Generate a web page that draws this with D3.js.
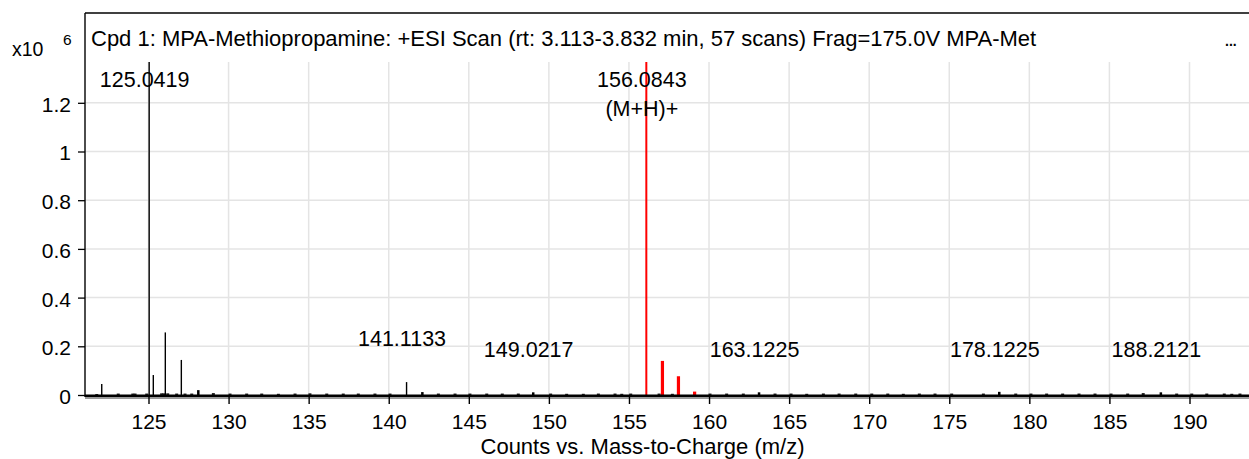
<!DOCTYPE html>
<html>
<head>
<meta charset="utf-8">
<script src="https://cdn.jsdelivr.net/npm/d3@7"></script>
<style>
  html, body { margin: 0; padding: 0; background: #fff; }
  svg { display: block; font-family: "Liberation Sans", Arial, sans-serif; }
</style>
</head>
<body>
<svg id="chart" width="1249" height="459"></svg>
<script>
// ---- spectrum data (intensities in units of 10^6 counts) ----
const titleText = "Cpd 1: MPA-Methiopropamine: +ESI Scan (rt: 3.113-3.832 min, 57 scans) Frag=175.0V MPA-Met";
const xAxisTitle = "Counts vs. Mass-to-Charge (m/z)";
const xTicks = [125, 130, 135, 140, 145, 150, 155, 160, 165, 170, 175, 180, 185, 190];
const yTicks = [0, 0.2, 0.4, 0.6, 0.8, 1, 1.2];

// fragment / background ions (black sticks)
const fragMz  = [122.08, 125.0419, 125.30, 126.05, 127.05, 128.11, 141.1133, 142.10, 149.0217, 163.1225, 178.1225, 188.2121];
const fragInt = [0.045,  1.40,     0.082,  0.257,  0.144,  0.020,  0.053,    0.012,  0.011,    0.011,    0.013,    0.011];

// protonated molecule and its isotopes (red sticks)
const ionMz  = [156.0843, 157.09, 158.09, 159.10];
const ionInt = [1.40,     0.140,  0.077,  0.014];

// low-level sticks along the baseline
const noiseMz  = [121.77, 123.11, 124.02, 124.16, 124.89, 125.82, 125.95, 126.20, 126.76, 127.28, 127.70,
                  129.05, 130.09, 131.13, 132.07, 133.11, 134.15, 135.08, 136.13, 137.16, 138.10, 139.14,
                  140.08, 143.10, 144.14, 145.07, 146.12, 147.09, 148.09, 150.11, 151.11, 152.15, 153.09,
                  154.13, 154.55, 155.11, 156.88, 157.71, 160.06, 161.10, 162.14, 164.12, 165.12, 166.10,
                  167.14, 168.12, 169.16, 170.16, 171.16, 172.13, 173.13, 174.11, 175.15, 177.13, 179.15,
                  180.10, 181.08, 182.08, 183.10, 184.10, 185.10, 186.14, 187.11, 189.20, 190.14, 191.08,
                  192.17, 192.64, 193.15];
const noiseInt = [0.004, 0.006, 0.006, 0.006, 0.006, 0.007, 0.007, 0.007, 0.006, 0.006, 0.006,
                  0.008, 0.006, 0.006, 0.006, 0.005, 0.006, 0.007, 0.006, 0.006, 0.006, 0.006,
                  0.006, 0.006, 0.006, 0.006, 0.006, 0.006, 0.006, 0.006, 0.005, 0.005, 0.006,
                  0.006, 0.005, 0.006, 0.006, 0.005, 0.006, 0.006, 0.006, 0.006, 0.006, 0.005,
                  0.006, 0.006, 0.006, 0.006, 0.006, 0.005, 0.006, 0.006, 0.006, 0.006, 0.006,
                  0.006, 0.006, 0.006, 0.006, 0.006, 0.006, 0.006, 0.008, 0.006, 0.006, 0.006,
                  0.006, 0.005, 0.006];

// annotated peaks
const labelMz   = [125.0419, 156.0843, 141.1133, 149.0217, 163.1225, 178.1225, 188.2121];
const labelText = ["125.0419", "156.0843", "141.1133", "149.0217", "163.1225", "178.1225", "188.2121"];
const labelNote = ["", "(M+H)+", "", "", "", "", ""];

// ---- layout ----
const svg = d3.select("#chart");
const W = 1249;
const frameLeft = 85, frameTop = 13;
const plotTop = 62, plotBottom = 395;
const fontSize = 21;
const titleSize = 22;

const x = d3.scaleLinear().domain([125, 190]).range([148.5, 1189.5]);
const y = d3.scaleLinear().domain([0, 1.2]).range([plotBottom, 102.8]);

svg.append("defs").append("clipPath").attr("id", "plotClip")
  .append("rect").attr("x", frameLeft).attr("y", plotTop)
  .attr("width", W - frameLeft).attr("height", plotBottom - plotTop + 1);

// grid
const grid = svg.append("g");
grid.selectAll("line.v").data(xTicks).join("line")
  .attr("x1", d => x(d)).attr("x2", d => x(d))
  .attr("y1", plotTop).attr("y2", plotBottom)
  .attr("stroke", "#e4e4e4").attr("stroke-width", 1.5);
grid.selectAll("line.h").data(yTicks.filter(d => d > 0)).join("line")
  .attr("x1", frameLeft).attr("x2", W)
  .attr("y1", d => y(d)).attr("y2", d => y(d))
  .attr("stroke", "#e4e4e4").attr("stroke-width", 1.5);

// frame (left and top edges)
svg.append("line").attr("x1", frameLeft).attr("x2", frameLeft)
  .attr("y1", frameTop).attr("y2", plotBottom + 2)
  .attr("stroke", "#000").attr("stroke-width", 1.4);
svg.append("line").attr("x1", frameLeft).attr("x2", W)
  .attr("y1", frameTop).attr("y2", frameTop)
  .attr("stroke", "#000").attr("stroke-width", 1.4);

// title
svg.append("text").attr("x", 91).attr("y", 46)
  .attr("font-size", titleSize).attr("fill", "#000").text(titleText);
svg.append("text").attr("x", 1225).attr("y", 46)
  .attr("font-size", 14).attr("font-weight", "bold").attr("fill", "#000").text("...");

// y scale factor
svg.append("text").attr("x", 12).attr("y", 56)
  .attr("font-size", 19.5).attr("fill", "#000").text("x10");
svg.append("text").attr("x", 63).attr("y", 45)
  .attr("font-size", 15.5).attr("fill", "#000").text("6");

// y axis
const yAxis = d3.axisLeft(y).tickValues(yTicks).tickFormat(d3.format("~g"))
  .tickSize(7).tickPadding(7);
const gy = svg.append("g").attr("transform", `translate(${frameLeft},0)`).call(yAxis);
gy.select(".domain").remove();
gy.selectAll(".tick line").attr("stroke", "#000").attr("stroke-width", 1.3);
gy.selectAll(".tick text").attr("font-size", fontSize).attr("fill", "#000")
  .attr("font-family", "Liberation Sans, Arial, sans-serif").attr("dy", "0.4em");

// spectrum sticks
const sticks = svg.append("g").attr("clip-path", "url(#plotClip)");
const noise = d3.zip(noiseMz, noiseInt);
sticks.selectAll("line.noise").data(noise).join("line")
  .attr("x1", d => x(d[0])).attr("x2", d => x(d[0]))
  .attr("y1", y(0)).attr("y2", d => y(d[1]))
  .attr("stroke", "#222").attr("stroke-width", 3);
const frags = d3.zip(fragMz, fragInt);
sticks.selectAll("line.frag").data(frags).join("line")
  .attr("x1", d => x(d[0])).attr("x2", d => x(d[0]))
  .attr("y1", y(0)).attr("y2", d => y(d[1]))
  .attr("stroke", "#000").attr("stroke-width", d => d[1] > 0.03 ? 1.4 : 2.5);
const ions = d3.zip(ionMz, ionInt);
sticks.selectAll("line.ion").data(ions).join("line")
  .attr("x1", d => x(d[0])).attr("x2", d => x(d[0]))
  .attr("y1", y(0)).attr("y2", d => y(d[1]))
  .attr("stroke", "#ff0000").attr("stroke-width", (d, i) => i === 0 ? 2 : 3.2);

// baseline / x axis line
svg.append("line").attr("x1", frameLeft).attr("x2", W)
  .attr("y1", plotBottom + 0.8).attr("y2", plotBottom + 0.8)
  .attr("stroke", "#000").attr("stroke-width", 2.5);
svg.append("line").attr("x1", frameLeft).attr("x2", W)
  .attr("y1", plotBottom + 3).attr("y2", plotBottom + 3)
  .attr("stroke", "#9a9a9a").attr("stroke-width", 2);

// x axis
const xAxis = d3.axisBottom(x).tickValues(xTicks).tickFormat(d3.format("d"))
  .tickSize(7).tickPadding(10);
const gx = svg.append("g").attr("transform", `translate(0,${plotBottom + 2})`).call(xAxis);
gx.select(".domain").remove();
gx.selectAll(".tick line").attr("stroke", "#000").attr("stroke-width", 1.4);
gx.selectAll(".tick text").attr("font-size", fontSize).attr("fill", "#000")
  .attr("font-family", "Liberation Sans, Arial, sans-serif");

svg.append("text").attr("x", 642.5).attr("y", 453.5)
  .attr("text-anchor", "middle").attr("font-size", titleSize).attr("fill", "#000")
  .text(xAxisTitle);

// peak annotations: off-scale peaks are labelled at the top of the plot,
// small peaks on a common row above the baseline (one lifted to avoid crowding)
const liftedLabels = new Set(["141.1133"]);
const allPeaks = new Map(frags.concat(ions).map(d => [d[0], d[1]]));
const yMax = y.invert(plotTop);
const labels = svg.append("g").attr("font-size", fontSize + 0.5).attr("fill", "#000")
  .attr("text-anchor", "middle");
labelMz.forEach((mz, i) => {
  const h = allPeaks.get(mz);
  const base = h >= yMax ? plotTop + 25 : (liftedLabels.has(labelText[i]) ? y(0.2) : y(0.155));
  labels.append("text").attr("x", x(mz) - 4.5).attr("y", base).text(labelText[i]);
  if (labelNote[i]) {
    labels.append("text").attr("x", x(mz) - 4.5).attr("y", base + 29).text(labelNote[i]);
  }
});
</script>
</body>
</html>
